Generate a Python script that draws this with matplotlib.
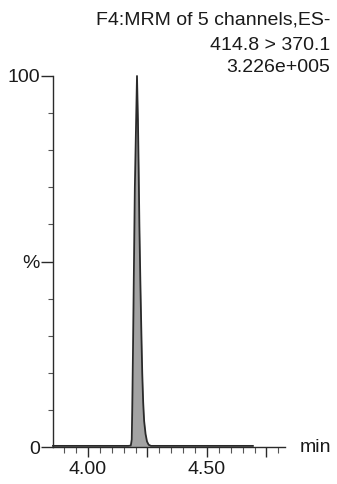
import matplotlib
matplotlib.use('Agg')
import matplotlib.pyplot as plt
import numpy as np
from matplotlib.ticker import MultipleLocator, FixedLocator

plt.rcParams['font.family'] = ['Liberation Sans', 'DejaVu Sans']

# chromatogram trace (time in min, relative intensity %)
times = [3.853, 4.000, 4.100, 4.170, 4.180, 4.184, 4.186, 4.189, 4.192, 4.197,
         4.206, 4.210, 4.213, 4.216, 4.220, 4.224, 4.228, 4.232, 4.236, 4.242,
         4.248, 4.255, 4.265, 4.400, 4.550, 4.693]
intensity = [0.3, 0.3, 0.3, 0.3, 0.4, 2, 10, 25, 42, 70,
             100, 88, 75, 60, 45, 32, 20, 12, 7, 3.5,
             1.5, 0.6, 0.3, 0.3, 0.3, 0.3]

header = ['F4:MRM of 5 channels,ES-', '414.8 > 370.1', '3.226e+005']
ytick_vals = [0, 50, 100]
ytick_labels = ['0', '%', '100']
xtick_vals = [4.00, 4.50]
xtick_labels = ['4.00', '4.50']

W, H = 337, 484
fig = plt.figure(figsize=(W / 100, H / 100), dpi=100)
fig.patch.set_facecolor('white')
ax = fig.add_axes([53 / W, 37 / H, 232 / W, 371 / H])

ink = '#2a2a2a'
ax.fill_between(times, 0, intensity, color='#a3a3a3', lw=0, zorder=2)
ax.plot(times, intensity, color=ink, lw=1.3, zorder=3, clip_on=False)

ax.set_xlim(3.853, 4.828)
ax.set_ylim(0, 100)

for s in ['top', 'right']:
    ax.spines[s].set_visible(False)
for s in ['left', 'bottom']:
    ax.spines[s].set_color(ink)
    ax.spines[s].set_linewidth(1.0)

ax.yaxis.set_major_locator(FixedLocator(ytick_vals))
ax.set_yticklabels(ytick_labels)
ax.yaxis.set_minor_locator(MultipleLocator(10))
ax.xaxis.set_major_locator(MultipleLocator(0.25))
ax.xaxis.set_minor_locator(MultipleLocator(0.05))
ax.xaxis.set_major_formatter(plt.FuncFormatter(
    lambda v, p: xtick_labels[xtick_vals.index(round(v, 2))] if round(v, 2) in xtick_vals else ''))

ax.tick_params(axis='y', which='major', length=8.5, width=1.0, color=ink,
               labelsize=14, labelcolor='#1a1a1a', pad=1)
ax.tick_params(axis='y', which='minor', length=3.5, width=0.8, color='#555555')
ax.tick_params(axis='x', which='major', length=7, width=1.0, color=ink,
               labelsize=14, labelcolor='#1a1a1a', pad=3)
ax.tick_params(axis='x', which='minor', length=4, width=0.8, color='#555555')

fig.text(300 / W, 1 - 447 / H, 'min', fontsize=14, color='#1a1a1a',
         ha='left', va='center')

ys = [20, 45, 67]
for txt, y in zip(header, ys):
    fig.text(330 / W, 1 - y / H, txt, fontsize=14, color='#1a1a1a',
             ha='right', va='center')

fig.savefig('out.png', dpi=100, facecolor='white')
